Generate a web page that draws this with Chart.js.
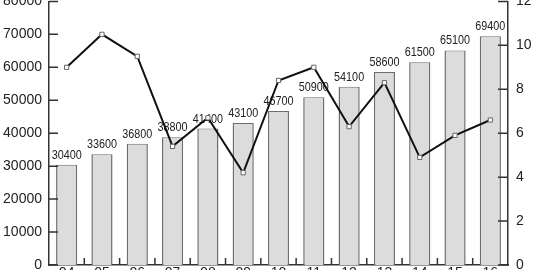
<!DOCTYPE html>
<html>
<head>
<meta charset="utf-8">
<script src="https://cdn.jsdelivr.net/npm/chart.js@4.4.0/dist/chart.umd.min.js"></script>
<style>
  html, body { margin: 0; padding: 0; background: #fff; overflow: hidden; }
  #wrap { position: relative; width: 550px; height: 270px; overflow: hidden; }
  #chart { position: absolute; left: 0; top: -15px; }
</style>
</head>
<body>
<div id="wrap"><canvas id="chart" width="550" height="300"></canvas></div>
<script>
const years = ["04", "05", "06", "07", "08", "09", "10", "11", "12", "13", "14", "15", "16"];
const barValues = [30400, 33600, 36800, 38800, 41400, 43100, 46700, 50900, 54100, 58600, 61500, 65100, 69400];
const lineValues = [9.0, 10.5, 9.5, 5.4, 6.7, 4.2, 8.4, 9.0, 6.3, 8.3, 4.9, 5.9, 6.6];

const axisFont = { family: "'Liberation Sans', Arial, sans-serif", size: 14 };
const labelFont = "13.5px 'Liberation Sans', Arial, sans-serif";

// bar value labels (squeezed a little) + inward tick marks
const decor = {
  id: "decor",
  afterDatasetDraw(chart, args) {
    if (args.index !== 0) return;
    const ctx = chart.ctx;
    const meta = chart.getDatasetMeta(0);
    ctx.save();
    ctx.font = labelFont;
    ctx.fillStyle = "#222";
    ctx.textAlign = "center";
    ctx.textBaseline = "bottom";
    meta.data.forEach((bar, i) => {
      ctx.save();
      ctx.translate(bar.x, bar.y - 3);
      ctx.scale(0.8, 1);
      ctx.fillText(String(barValues[i]), 0, 0);
      ctx.restore();
    });
    ctx.restore();
  },
  afterDraw(chart) {
    const ctx = chart.ctx;
    const { left, right, bottom } = chart.chartArea;
    const y = chart.scales.y, y1 = chart.scales.y1, x = chart.scales.x;
    ctx.save();
    ctx.strokeStyle = "#333";
    ctx.lineWidth = 1.5;
    ctx.beginPath();
    y.ticks.forEach(t => {
      const py = y.getPixelForValue(t.value);
      ctx.moveTo(left, py); ctx.lineTo(left + 9, py);
    });
    y1.ticks.forEach(t => {
      const py = y1.getPixelForValue(t.value);
      ctx.moveTo(right, py); ctx.lineTo(right - 10, py);
    });
    for (let i = 1; i < years.length; i++) {
      const px = (x.getPixelForValue(i - 1) + x.getPixelForValue(i)) / 2;
      ctx.moveTo(px, bottom); ctx.lineTo(px, bottom - 7);
    }
    ctx.stroke();
    ctx.restore();
  }
};

new Chart(document.getElementById("chart"), {
  type: "bar",
  data: {
    labels: years,
    datasets: [
      {
        type: "bar",
        data: barValues,
        yAxisID: "y",
        backgroundColor: "#dcdcdc",
        borderColor: "#6e6e6e",
        borderWidth: { left: 1.5, right: 1.5, top: 1, bottom: 0 },
        categoryPercentage: 1,
        barPercentage: 0.6,
        order: 2
      },
      {
        type: "line",
        data: lineValues,
        yAxisID: "y1",
        borderColor: "#111",
        borderWidth: 2,
        pointStyle: "rect",
        pointRadius: 3,
        pointBackgroundColor: "#fff",
        pointBorderColor: "#666",
        pointBorderWidth: 1,
        tension: 0,
        order: 1
      }
    ]
  },
  options: {
    responsive: false,
    animation: false,
    layout: { padding: { top: 8, bottom: 0, left: 0, right: 0 } },
    plugins: { legend: { display: false }, tooltip: { enabled: false } },
    scales: {
      x: {
        offset: true,
        grid: { display: false, drawTicks: false },
        border: { display: true, color: "#333", width: 1.5 },
        ticks: { font: axisFont, color: "#222", padding: 0, maxRotation: 0, autoSkip: false },
        afterFit(s) { s.height = 20; }
      },
      y: {
        position: "left",
        min: 0, max: 80000,
        ticks: { stepSize: 10000, font: axisFont, color: "#222", padding: 7, callback: v => String(v) },
        grid: { display: false, drawTicks: false },
        border: { display: true, color: "#333", width: 1.5 },
        afterFit(s) { s.width = 49; }
      },
      y1: {
        position: "right",
        min: 0, max: 12,
        ticks: { stepSize: 2, font: axisFont, color: "#222", padding: 8 },
        grid: { display: false, drawTicks: false },
        border: { display: true, color: "#333", width: 1.5 },
        afterFit(s) { s.width = 42; }
      }
    }
  },
  plugins: [decor]
});
</script>
</body>
</html>
